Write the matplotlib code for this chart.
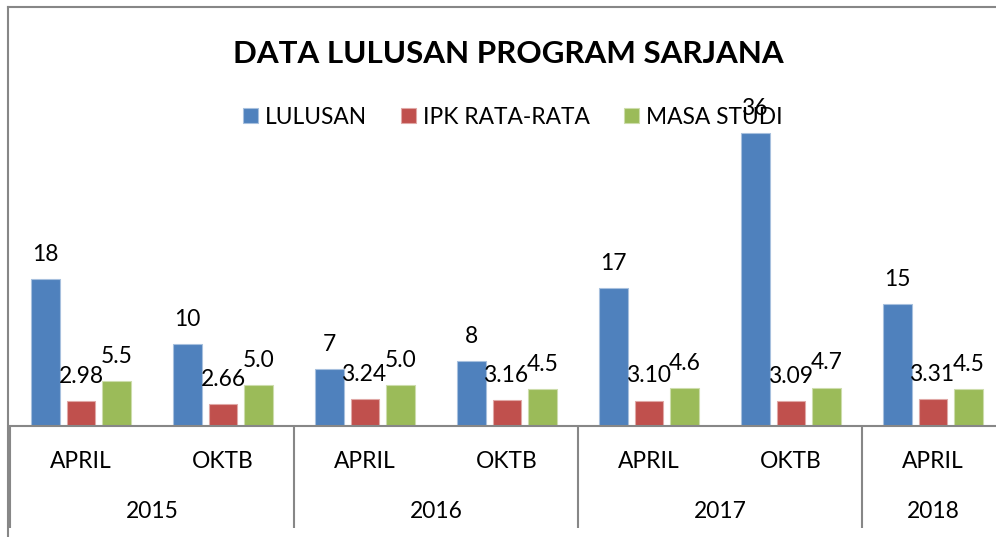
import numpy as np
import matplotlib.pyplot as plt
from matplotlib.lines import Line2D

plt.rcParams['font.family'] = ['Lato', 'DejaVu Sans']

# data
bulan = ['APRIL', 'OKTB', 'APRIL', 'OKTB', 'APRIL', 'OKTB', 'APRIL']
tahun = ['2015', '2016', '2017', '2018']
tahun_span = [(0, 1), (2, 3), (4, 5), (6, 6)]
lulusan = [18, 10, 7, 8, 17, 36, 15]
ipk = [2.98, 2.66, 3.24, 3.16, 3.10, 3.09, 3.31]
masa_studi = [5.5, 5.0, 5.0, 4.5, 4.6, 4.7, 4.5]

seri = [('LULUSAN', lulusan, '#4F81BD', '#A7C0DE', '{:d}'),
        ('IPK RATA-RATA', ipk, '#C0504D', '#E0A8A6', '{:.2f}'),
        ('MASA STUDI', masa_studi, '#9BBB59', '#CDDDAC', '{:.1f}')]

W, H = 996, 537
fig = plt.figure(figsize=(W / 100, H / 100), dpi=100)
# plot area: x from 10px to 1004px (cropped), baseline at 425.7px
ax = fig.add_axes([10 / W, (H - 425.7) / H, 994 / W, 324.9 / H])
ax.set_xlim(-0.5, 6.5)
ax.set_ylim(0, 40)

x = np.arange(len(bulan))
lebar = 0.2
jarak = 0.25
handles = []
for k, (nama, nilai, warna, tepi, fmt) in enumerate(seri):
    pos = x + (k - 1) * jarak
    b = ax.bar(pos, nilai, lebar, color=warna, edgecolor=tepi, linewidth=0.8, label=nama)
    handles.append(b)
    for px, v in zip(pos, nilai):
        ax.annotate(fmt.format(v), (px, v), xytext=(0, 13), textcoords='offset points',
                    ha='center', va='baseline', fontsize=16.4, color='black')

# axes styling
for s in ['top', 'right', 'left']:
    ax.spines[s].set_visible(False)
ax.spines['bottom'].set_color('#878787')
ax.spines['bottom'].set_linewidth(1.5)
ax.set_yticks([])
ax.set_xticks(x)
ax.set_xticklabels(bulan, fontsize=16.4)
ax.tick_params(axis='x', length=0, pad=18)

# year labels and separators
trans = ax.get_xaxis_transform()
for t, (a, b) in zip(tahun, tahun_span):
    ax.text((a + b) / 2, -0.2656, t, transform=trans, ha='center', va='center', fontsize=16.4)
batas = [-0.5, 1.5, 3.5, 5.5]
ax.vlines(batas, -0.315, 0, transform=trans, colors='#878787', linewidth=1.5, clip_on=False)

# chart border
fig.add_artist(Line2D([8.3 / W, 8.3 / W], [0, (H - 7.3) / H], transform=fig.transFigure,
                      color='#878787', linewidth=1.5))
fig.add_artist(Line2D([8.3 / W, 1], [(H - 7.3) / H, (H - 7.3) / H], transform=fig.transFigure,
                      color='#878787', linewidth=1.5))

# title and legend
fig.text(508.5 / W, (H - 62.7) / H, 'DATA LULUSAN PROGRAM SARJANA', ha='center', va='baseline',
         fontsize=22.6, fontweight='bold')
fig.legend(handles=handles, loc='center', bbox_to_anchor=(512.5 / W, (H - 117) / H), ncol=3,
           frameon=False, fontsize=16.4, handlelength=0.66, handleheight=0.66,
           handletextpad=0.3, columnspacing=1.5, borderpad=0, borderaxespad=0)

fig.savefig('out.png', dpi=100)
